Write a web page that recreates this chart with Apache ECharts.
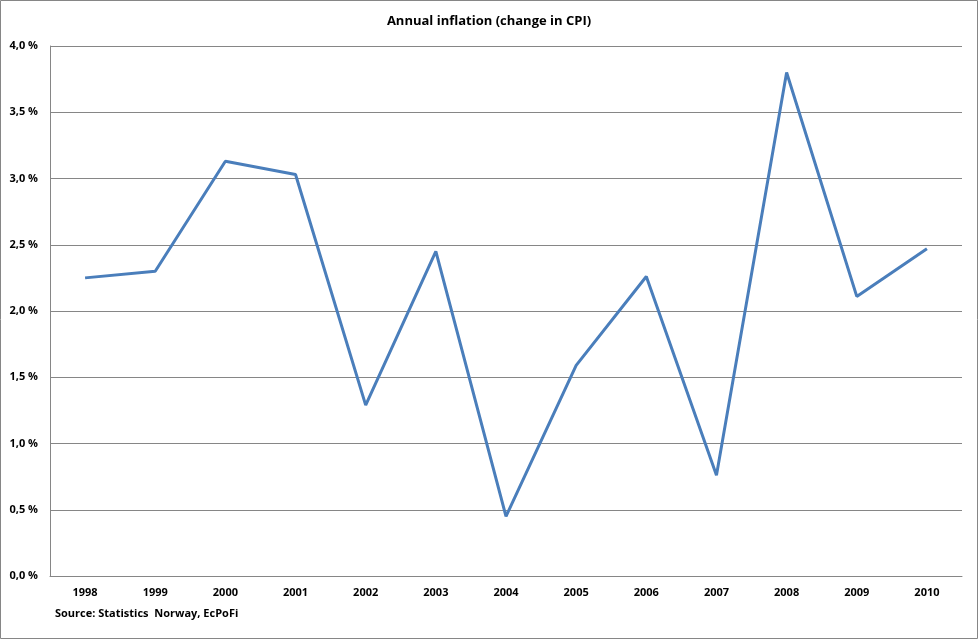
<!DOCTYPE html>
<html>
<head>
<meta charset="utf-8">
<script src="https://cdn.jsdelivr.net/npm/echarts@6/dist/echarts.min.js"></script>
<style>
html,body{margin:0;padding:0;background:#fff;}
#c{width:978px;height:639px;}
</style>
</head>
<body>
<div id="c"></div>
<script>
var years = ['1998','1999','2000','2001','2002','2003','2004','2005','2006','2007','2008','2009','2010'];
var inflation = [2.25, 2.30, 3.13, 3.03, 1.29, 2.45, 0.45, 1.59, 2.26, 0.76, 3.80, 2.11, 2.47];
var chartTitle = 'Annual inflation (change in CPI)';
var sourceText = 'Source: Statistics  Norway, EcPoFi';

var font = '"Open Sans", "DejaVu Sans", sans-serif';
var chart = echarts.init(document.getElementById('c'));
chart.setOption({
  animation: false,
  backgroundColor: '#fff',
  title: {
    text: chartTitle,
    left: 'center',
    top: 10,
    textStyle: {fontFamily: font, fontSize: 13, fontWeight: 'bold', color: '#000'}
  },
  graphic: [
    {type: 'rect', shape: {x: 0.5, y: 0.5, width: 977, height: 638}, style: {fill: 'none', stroke: '#868686', lineWidth: 1}, silent: true},
    {type: 'text', left: 55, top: 608, style: {text: sourceText, font: 'bold 11px ' + font, fill: '#000'}}
  ],
  grid: {left: 50, right: 16, top: 46, bottom: 63, containLabel: false},
  xAxis: {
    type: 'category',
    data: years,
    boundaryGap: true,
    axisLine: {show: true, lineStyle: {color: '#868686', width: 1}},
    axisTick: {show: false},
    axisLabel: {fontFamily: font, fontSize: 11, fontWeight: 'bold', color: '#000', margin: 11}
  },
  yAxis: {
    type: 'value',
    min: 0,
    max: 4,
    interval: 0.5,
    axisLine: {show: true, lineStyle: {color: '#868686', width: 1}},
    axisTick: {show: false},
    splitLine: {show: true, lineStyle: {color: '#868686', width: 1}},
    axisLabel: {
      fontFamily: font, fontSize: 11, fontWeight: 'bold', color: '#000', margin: 12,
      formatter: function (v) { return v.toFixed(1).replace('.', ',') + ' %'; }
    }
  },
  series: [{
    type: 'line',
    data: inflation,
    symbol: 'none',
    lineStyle: {color: '#4a7ebb', width: 3},
    z: 3
  }]
});
</script>
</body>
</html>
